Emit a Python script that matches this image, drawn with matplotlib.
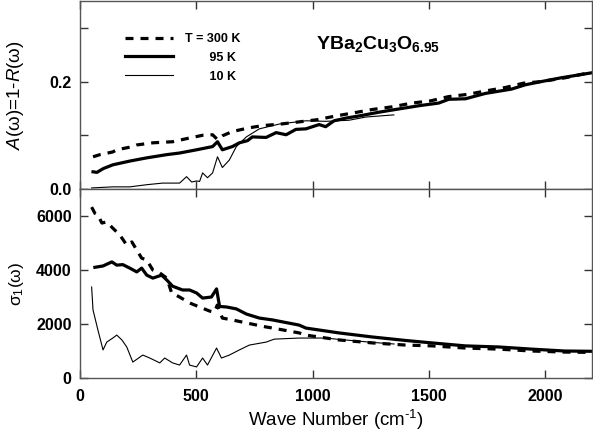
import matplotlib.pyplot as plt
from matplotlib.lines import Line2D

plt.rcParams['font.family'] = ['Liberation Sans', 'DejaVu Sans']
plt.rcParams['mathtext.fontset'] = 'custom'
plt.rcParams['mathtext.rm'] = 'Liberation Sans'
plt.rcParams['mathtext.it'] = 'Liberation Sans:italic'
plt.rcParams['mathtext.bf'] = 'Liberation Sans:bold'

# absorptivity A(w) = 1 - R(w)
wn_A300 = [56, 86, 141, 158, 227, 244, 313, 398, 471, 527, 570, 591, 612, 655, 728, 785, 864, 942,
           1019, 1100, 1179, 1256, 1342, 1427, 1506, 1584, 1663, 1749, 1829, 1906, 1983, 2085, 2195]
A300 = [0.060, 0.064, 0.069, 0.073, 0.079, 0.082, 0.086, 0.088, 0.095, 0.100, 0.101, 0.092, 0.099,
        0.107, 0.114, 0.118, 0.121, 0.125, 0.129, 0.136, 0.142, 0.148, 0.153, 0.160, 0.164, 0.172,
        0.176, 0.183, 0.189, 0.197, 0.200, 0.207, 0.217]

wn_A95 = [56, 73, 100, 141, 214, 287, 373, 428, 501, 570, 591, 612, 655, 685, 720, 741, 800, 843,
          886, 928, 971, 1028, 1056, 1092, 1143, 1200, 1285, 1356, 1456, 1542, 1585, 1657, 1743,
          1855, 1914, 1983, 2068, 2195]
A95 = [0.032, 0.031, 0.038, 0.045, 0.052, 0.058, 0.064, 0.067, 0.073, 0.079, 0.088, 0.073, 0.079,
       0.086, 0.090, 0.097, 0.096, 0.105, 0.101, 0.111, 0.112, 0.120, 0.116, 0.127, 0.132, 0.136,
       0.143, 0.148, 0.155, 0.160, 0.167, 0.168, 0.178, 0.186, 0.194, 0.200, 0.207, 0.216]

wn_A10 = [50, 141, 214, 287, 355, 428, 458, 480, 501, 514, 527, 548, 570, 591, 612, 642, 672, 715,
          771, 857, 971, 1056, 1156, 1229, 1349]
A10 = [0.002, 0.004, 0.004, 0.008, 0.011, 0.011, 0.023, 0.013, 0.015, 0.014, 0.030, 0.021, 0.030,
       0.060, 0.040, 0.054, 0.079, 0.097, 0.112, 0.121, 0.127, 0.126, 0.128, 0.134, 0.138]

# optical conductivity sigma_1(w)
wn_s300 = [50, 64, 77, 94, 115, 141, 171, 201, 223, 244, 265, 287, 313, 343, 373, 394, 428, 471,
           514, 557, 578, 590, 612, 655, 715, 800, 828, 942, 971, 1113, 1256, 1400, 1513, 1656,
           1799, 1941, 2083, 2195]
s300 = [6330, 6100, 6040, 5740, 5780, 5550, 5300, 4920, 5040, 4740, 4440, 4370, 4000, 3890, 3700,
        3150, 3000, 2780, 2630, 2480, 2440, 2700, 2220, 2150, 2040, 1890, 1850, 1670, 1590, 1410,
        1300, 1220, 1190, 1110, 1070, 1000, 960, 950]

wn_s95 = [64, 99, 137, 158, 184, 214, 244, 265, 287, 313, 351, 373, 398, 441, 471, 501, 527, 565,
          587, 600, 630, 672, 715, 771, 828, 942, 971, 1113, 1256, 1400, 1513, 1656, 1799, 1941,
          2083, 2195]
s95 = [4100, 4150, 4300, 4180, 4200, 4070, 3930, 4070, 3810, 3700, 3810, 3630, 3400, 3260, 3260,
       3150, 2960, 3000, 3300, 2650, 2630, 2560, 2370, 2220, 2150, 1960, 1850, 1670, 1520, 1390,
       1300, 1190, 1150, 1070, 1000, 990]

wn_s10 = [50, 56, 77, 99, 115, 141, 158, 180, 201, 227, 270, 300, 343, 364, 398, 428, 458, 471,
          501, 527, 548, 587, 608, 642, 685, 728, 800, 835, 942, 1056, 1113, 1256, 1350]
s10 = [3370, 2520, 1780, 1040, 1330, 1480, 1590, 1410, 1150, 590, 850, 740, 560, 740, 560, 480,
       850, 480, 410, 740, 480, 1110, 740, 850, 1040, 1220, 1330, 1440, 1480, 1480, 1430, 1320, 1260]

xticks = [0, 500, 1000, 1500, 2000]

fig = plt.figure(figsize=(5.93, 4.36), dpi=100)
ax1 = fig.add_axes([0.1349, 0.5665, 0.8631, 0.4312])
ax2 = fig.add_axes([0.1349, 0.1330, 0.8631, 0.4335])

dash = (2.5, 2.2)
ax1.plot(wn_A300, A300, color='black', lw=2.3, linestyle=(0, dash))
ax1.plot(wn_A95, A95, color='black', lw=2.3)
ax1.plot(wn_A10, A10, color='black', lw=0.8)
ax2.plot(wn_s300, s300, color='black', lw=2.3, linestyle=(0, dash))
ax2.plot(wn_s95, s95, color='black', lw=2.3)
ax2.plot(wn_s10, s10, color='black', lw=0.8)

for ax in (ax1, ax2):
    ax.set_xlim(0, 2200)
    ax.set_xticks(xticks)
    ax.tick_params(direction='in', length=6, width=1, top=True, right=True,
                   labelsize=11.5, pad=6, color='#333333')
    for s in ax.spines.values():
        s.set_color('#555555')
        s.set_linewidth(1)

ax1.set_ylim(0, 0.35)
ax1.set_yticks([0, 0.1, 0.2, 0.3], ['0.0', '', '0.2', ''], fontweight='bold')
ax1.set_xticks(xticks, [''] * len(xticks))
ax2.set_ylim(0, 7000)
ax2.set_yticks([0, 2000, 4000, 6000], ['0', '2000', '4000', '6000'], fontweight='bold')
ax2.set_xticks(xticks, [str(v) for v in xticks], fontweight='bold')
ax2.tick_params(axis='x', pad=8)

ax1.set_ylabel(r'$A$(ω)=1-$R$(ω)', fontsize=13.5)
ax2.set_ylabel(r'σ$_1$(ω)', fontsize=12.5)
ax2.set_xlabel(r'Wave Number (cm$^{\text{-}1}$)', fontsize=13.5, labelpad=3)
ax1.yaxis.set_label_coords(-0.105, 0.5)
ax2.yaxis.set_label_coords(-0.105, 0.5)

handles = [Line2D([], [], color='black', lw=2.3, linestyle=(0, dash)),
           Line2D([], [], color='black', lw=2.3),
           Line2D([], [], color='black', lw=0.8)]
labels = ['T = 300 K', '       95 K', '       10 K']
ax1.legend(handles, labels, loc='upper left', bbox_to_anchor=(0.065, 0.89), frameon=False,
           handlelength=3.9, handletextpad=0.9, labelspacing=0.55,
           prop={'weight': 'bold', 'size': 9})

ax1.text(0.462, 0.745, r'$\mathbf{YBa_2Cu_3O_{6.95}}$', transform=ax1.transAxes, fontsize=14)

fig.savefig('out.png', dpi=100)
